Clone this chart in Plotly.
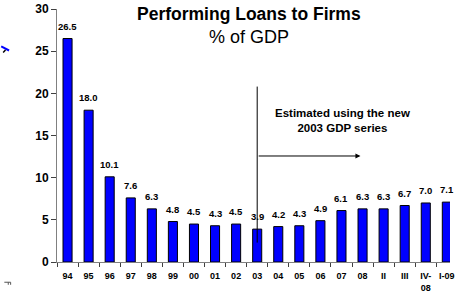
import plotly.graph_objects as go

categories = ["94", "95", "96", "97", "98", "99", "00", "01", "02", "03", "04", "05",
              "06", "07", "08", "II", "III", "IV-<br>08", "I-09"]
values = [26.5, 18.0, 10.1, 7.6, 6.3, 4.8, 4.5, 4.3, 4.5, 3.9, 4.2, 4.3,
          4.9, 6.1, 6.3, 6.3, 6.7, 7.0, 7.1]
value_labels = ["26.5", "18.0", "10.1", "7.6", "6.3", "4.8", "4.5", "4.3", "4.5", "3.9",
                "4.2", "4.3", "4.9", "6.1", "6.3", "6.3", "6.7", "7.0", "7.1"]
y_ticks = [0, 5, 10, 15, 20, 25, 30]

FONT = "Liberation Sans"

fig = go.Figure()
fig.add_trace(go.Bar(
    x=categories, y=values, width=0.43,
    marker=dict(color="#0000FF", line=dict(color="black", width=1)),
    showlegend=False, hoverinfo="skip",
))

# value labels above bars (numeric category index)
for i, (v, t) in enumerate(zip(values, value_labels)):
    fig.add_annotation(x=i, y=v, xref="x", yref="y", text="<b>%s</b>" % t, showarrow=False,
                       yanchor="bottom", yshift=5,
                       font=dict(family=FONT, size=9.5, color="black"))

# title
fig.add_annotation(xref="paper", yref="paper", x=0.489, y=0.982, text="<b>Performing Loans to Firms</b>",
                   showarrow=False, xanchor="center", yanchor="middle",
                   font=dict(family=FONT, size=17.5, color="black"))
fig.add_annotation(xref="paper", yref="paper", x=0.489, y=0.888, text="% of GDP",
                   showarrow=False, xanchor="center", yanchor="middle",
                   font=dict(family=FONT, size=18, color="black"))

# estimated note
fig.add_annotation(x=13.05, y=16.77, xref="x", yref="y",
                   text="<b>Estimated using the new<br>2003 GDP series</b>",
                   showarrow=False, xanchor="center", yanchor="middle",
                   font=dict(family=FONT, size=11.5, color="black"))

# vertical divider line at 2003
fig.add_shape(type="line", x0=9, x1=9, y0=2.3, y1=20.8, xref="x", yref="y",
              line=dict(color="black", width=1))
# arrow
fig.add_annotation(x=13.9, y=12.57, ax=9, ay=12.57, xref="x", yref="y",
                   axref="x", ayref="y", text="", showarrow=True,
                   arrowhead=2, arrowsize=1, arrowwidth=1, arrowcolor="black")

# stray marks at left edge
fig.add_shape(type="line", xref="paper", yref="paper", x0=-0.142, x1=-0.122, y0=0.852, y1=0.836,
              line=dict(color="#0000FF", width=2))
fig.add_shape(type="line", xref="paper", yref="paper", x0=-0.137, x1=-0.131, y0=0.828, y1=0.838,
              line=dict(color="black", width=1.5))
fig.add_shape(type="line", xref="paper", yref="paper", x0=-0.134, x1=-0.118, y0=-0.08, y1=-0.08,
              line=dict(color="#555555", width=1))
fig.add_shape(type="line", xref="paper", yref="paper", x0=-0.124, x1=-0.124, y0=-0.08, y1=-0.09,
              line=dict(color="#555555", width=1))
fig.add_shape(type="line", xref="paper", yref="paper", x0=-0.118, x1=-0.118, y0=-0.08, y1=-0.09,
              line=dict(color="#555555", width=1))

fig.update_layout(
    width=455, height=302,
    margin=dict(l=57, r=0, t=8.5, b=39.7),
    paper_bgcolor="white", plot_bgcolor="white",
    font=dict(family=FONT, color="black"),
    bargap=0.57,
    xaxis=dict(type="category", range=[-0.5, 18.15], showline=True, linecolor="#808080",
               linewidth=1, ticks="outside", tickson="boundaries", ticklen=4,
               tickcolor="#404040", showgrid=False, zeroline=False,
               tickfont=dict(family=FONT, size=9, color="black", weight="bold"),
               ticklabelstandoff=5),
    yaxis=dict(range=[0, 30], tickvals=y_ticks, showline=True, linecolor="#808080",
               linewidth=1, ticks="outside", ticklen=5, tickcolor="#404040",
               showgrid=False, zeroline=False,
               tickfont=dict(family=FONT, size=12, color="black", weight="bold")),
)

fig.write_html("out.html", config={"displayModeBar": False},
               post_script="document.body.style.margin='0';")
